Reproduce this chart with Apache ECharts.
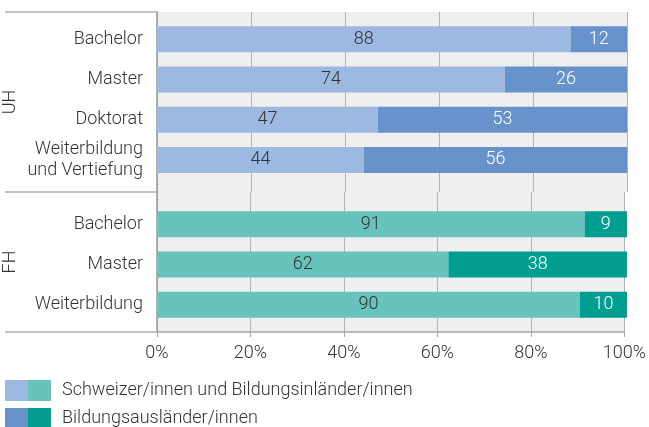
<!DOCTYPE html>
<html>
<head>
<meta charset="utf-8">
<script src="https://cdn.jsdelivr.net/npm/echarts@6/dist/echarts.min.js"></script>
<style>
  html, body { margin: 0; padding: 0; background: #fff; }
  #mainBox { width: 649px; height: 427px; }
</style>
</head>
<body>
<div id="mainBox"></div>
<script>
// Daten
var groups = ['UH', 'FH'];
var categoriesUH = ['Bachelor', 'Master', 'Doktorat', 'Weiterbildung\nund Vertiefung'];
var inlandUH = [88, 74, 47, 44];
var auslandUH = [12, 26, 53, 56];
var categoriesFH = ['Bachelor', 'Master', 'Weiterbildung'];
var inlandFH = [91, 62, 90];
var auslandFH = [9, 38, 10];
var legendLabels = ['Schweizer/innen und Bildungsinländer/innen', 'Bildungsausländer/innen'];

var colUHlight = '#9db8e1', colUHdark = '#6892cb';
var colFHlight = '#67c3bc', colFHdark = '#019d90';
var txt = '#333333';
var font = 'Roboto';
var fs = 18;

var myChart = echarts.init(document.getElementById('mainBox'));

function bgX(idx, showLabels) {
    return {
        type: 'value', gridIndex: idx, min: 0, max: 100, interval: 20,
        axisLine: { show: showLabels, lineStyle: { color: '#a6a6a6', width: 1.5 } },
        axisTick: { show: showLabels, length: 5, lineStyle: { color: '#a6a6a6' } },
        axisLabel: {
            show: showLabels, formatter: '{value}%', margin: 12,
            color: txt, fontSize: fs, fontFamily: font, fontWeight: 300
        },
        splitLine: { show: true, lineStyle: { color: '#b4b4b4', width: 1 } }
    };
}
function bgY(idx, name) {
    return {
        type: 'category', gridIndex: idx, data: [name],
        axisLine: { show: true, lineStyle: { color: '#9a9a9a', width: 1.5 } },
        axisTick: { show: true, length: 152, lineStyle: { color: '#b0b0b0', width: 1.5 } },
        axisLabel: {
            rotate: 90, margin: 138, color: txt, fontSize: fs,
            fontFamily: font, fontWeight: 300
        },
        splitLine: { show: false }
    };
}
function barX(idx) {
    return { type: 'value', gridIndex: idx, min: 0, max: 100, show: false };
}
function barY(idx, cats) {
    return {
        type: 'category', gridIndex: idx, data: cats, inverse: true,
        axisLine: { show: false }, axisTick: { show: false },
        axisLabel: {
            margin: 14, color: txt, fontSize: fs, lineHeight: 21,
            fontFamily: font, fontWeight: 300
        }
    };
}
function barSeries(name, idx, data, color, labelColor, stack) {
    return {
        name: name, type: 'bar', stack: stack,
        xAxisIndex: idx, yAxisIndex: idx,
        barWidth: 26, data: data,
        itemStyle: { color: color },
        label: {
            show: true, position: 'inside', color: labelColor,
            fontSize: fs, fontFamily: font, fontWeight: 300
        },
        emphasis: { disabled: true }
    };
}

var option = {
    animation: false,
    textStyle: { fontFamily: font },
    grid: [
        { left: 157, right: 22, top: 12, height: 180, show: true, backgroundColor: '#efefef', borderWidth: 0 },
        { left: 157, right: 22, top: 192, height: 140, show: true, backgroundColor: '#efefef', borderWidth: 0 },
        { left: 157, right: 22, top: 19, height: 161 },
        { left: 157, right: 22, top: 204, height: 121 }
    ],
    xAxis: [bgX(0, false), bgX(1, true), barX(2), barX(3)],
    yAxis: [bgY(0, groups[0]), bgY(1, groups[1]), barY(2, categoriesUH), barY(3, categoriesFH)],
    legend: [
        {
            data: ['uhIn', 'uhAus'], orient: 'vertical', left: 5, top: 380, padding: 0,
            height: 80, itemWidth: 23, itemHeight: 21, itemGap: 7, icon: 'rect',
            selectedMode: false, formatter: function () { return ''; }
        },
        {
            data: ['fhIn', 'fhAus'], orient: 'vertical', left: 28, top: 380, padding: 0,
            height: 80, itemWidth: 23, itemHeight: 21, itemGap: 7, icon: 'rect',
            selectedMode: false,
            formatter: function (name) { return name === 'fhIn' ? legendLabels[0] : legendLabels[1]; },
            textStyle: { color: txt, fontSize: fs, fontFamily: font, fontWeight: 300, padding: [0, 0, 0, 6] }
        }
    ],
    series: [
        barSeries('uhIn', 2, inlandUH, colUHlight, txt, 'uh'),
        barSeries('uhAus', 2, auslandUH, colUHdark, '#ffffff', 'uh'),
        barSeries('fhIn', 3, inlandFH, colFHlight, txt, 'fh'),
        barSeries('fhAus', 3, auslandFH, colFHdark, '#ffffff', 'fh')
    ]
};

myChart.setOption(option);
</script>
</body>
</html>
